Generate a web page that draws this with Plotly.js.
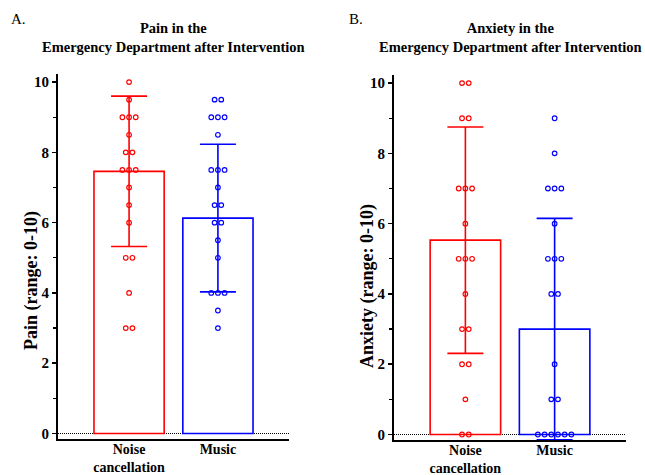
<!DOCTYPE html>
<html>
<head>
<meta charset="utf-8">
<script src="https://cdn.plot.ly/plotly-3.0.1.min.js"></script>
<style>html,body{margin:0;padding:0;background:#fff;}#chart{width:645px;height:475px;}</style>
</head>
<body>
<div id="chart"></div>
<script>
// ---- data ----
const categories = ['Noise<br>cancellation', 'Music'];

// Panel A: pain after intervention (individual patients)
const painNoise = [10, 9.5, 9, 9, 9, 8.5, 8, 8, 7.5, 7.5, 7.5, 7, 6.5, 6, 5, 5, 4, 3, 3];
const painMusic = [9.5, 9.5, 9, 9, 9, 8.5, 7.5, 7.5, 7.5, 7, 6.5, 6.5, 6, 6, 5.5, 5, 4, 4, 4, 3.5, 3];
const painMean = [7.46, 6.13];
const painSD = [2.14, 2.10];

// Panel B: anxiety after intervention
const anxNoise = [10, 10, 9, 9, 7, 7, 7, 6, 5, 5, 5, 4, 3, 3, 2, 2, 1, 0, 0];
const anxMusic = [9, 8, 7, 7, 7, 6, 5, 5, 5, 4, 4, 2, 1, 1, 0, 0, 0, 0, 0, 0];
const anxMean = [5.53, 3.0];
const anxSD = [3.22, 3.15];

const panelTitles = ['Pain in the<br>Emergency Department after Intervention',
                     'Anxiety in the<br>Emergency Department after Intervention'];
const yTitles = ['Pain (range: 0-10)', 'Anxiety (range: 0-10)'];
const panelLetters = ['A.', 'B.'];

// ---- helpers ----
const FONT = 'Liberation Serif, Times New Roman, serif';
const colors = ['#ff0000', '#0000ff'];
const JIT = 0.075; // horizontal spacing between tied points (category units)

function swarm(values, catIndex) {
  const counts = {}, seen = {};
  values.forEach(v => { counts[v] = (counts[v] || 0) + 1; });
  return values.map(v => {
    const i = seen[v] || 0; seen[v] = i + 1;
    return catIndex + (i - (counts[v] - 1) / 2) * JIT;
  });
}

const traces = [];
function addPanel(ax, ay, means, sds, groups) {
  const xref = 'x' + (ax === 1 ? '' : ax), yref = 'y' + (ay === 1 ? '' : ay);
  means.forEach((m, k) => {
    traces.push({
      type: 'bar', x: [k], y: [m], xaxis: xref, yaxis: yref, width: 0.79,
      marker: {color: 'rgba(255,255,255,0)', line: {color: colors[k], width: 1.6}},
      error_y: {type: 'data', array: [sds[k]], visible: true, color: colors[k], thickness: 1.6, width: 18},
      hoverinfo: 'skip', showlegend: false
    });
  });
  groups.forEach((vals, k) => {
    traces.push({
      type: 'scatter', mode: 'markers', x: swarm(vals, k), y: vals, xaxis: xref, yaxis: yref,
      marker: {symbol: 'circle-open', size: 4.6, color: colors[k], line: {width: 1.2, color: colors[k]}},
      showlegend: false, hoverinfo: 'skip'
    });
  });
}
addPanel(1, 1, painMean, painSD, [painNoise, painMusic]);
addPanel(2, 2, anxMean, anxSD, [anxNoise, anxMusic]);

const W = 645, H = 475;
const px = v => v / W, py = v => 1 - v / H;

function xax(d0, d1, anchor) {
  return {
    domain: [px(d0), px(d1)], anchor: anchor, range: [-0.8, 1.8],
    tickvals: [0, 1], ticktext: categories, ticks: '', showgrid: false, zeroline: false,
    showline: true, linecolor: '#000', linewidth: 2, ticklabelstandoff: -4,
    tickfont: {family: FONT, size: 14, color: '#000', weight: 700}
  };
}
function yax(t, b, anchor) {
  return {
    domain: [py(b), py(t)], anchor: anchor, range: [-0.156, 10.23],
    tickvals: [0, 2, 4, 6, 8, 10], ticks: 'outside', ticklen: 4, tickwidth: 1.5, tickcolor: '#000',
    minor: {tickvals: [1, 3, 5, 7, 9], ticks: 'outside', ticklen: 3, tickwidth: 1.2, tickcolor: '#000'},
    showgrid: false, zeroline: false, showline: true, linecolor: '#000', linewidth: 2,
    tickfont: {family: FONT, size: 15, color: '#000', weight: 700}
  };
}

const annotations = [];
const centers = [(58 + 289) / 2, (394 + 626) / 2];
panelTitles.forEach((t, i) => annotations.push({
  xref: 'paper', yref: 'paper', x: px(centers[i]), y: py(38), xanchor: 'center', yanchor: 'middle',
  text: '<b>' + t + '</b>', showarrow: false, align: 'center',
  font: {family: FONT, size: 14.5, color: '#000'}
}));
const letterX = [9, 347];
panelLetters.forEach((t, i) => annotations.push({
  xref: 'paper', yref: 'paper', x: px(letterX[i]), y: py(19), xanchor: 'left', yanchor: 'middle',
  text: t, showarrow: false, font: {family: FONT, size: 15, color: '#000'}
}));
const yTitleX = [31, 367], yTitleY = [281, 286];
yTitles.forEach((t, i) => annotations.push({
  xref: 'paper', yref: 'paper', x: px(yTitleX[i]), y: py(yTitleY[i]), xanchor: 'center', yanchor: 'middle',
  text: '<b>' + t + '</b>', textangle: -90, showarrow: false,
  font: {family: FONT, size: 18, color: '#000'}
}));

const shapes = [['x', 'y'], ['x2', 'y2']].map(([xr, yr]) => ({
  type: 'line', xref: xr + ' domain', yref: yr, x0: 0, x1: 1, y0: 0, y1: 0,
  line: {color: '#000', width: 1.2, dash: '1px,1px'}, layer: 'below'
}));

const layout = {
  width: W, height: H, margin: {l: 0, r: 0, t: 0, b: 0},
  paper_bgcolor: '#fff', plot_bgcolor: 'rgba(0,0,0,0)',
  xaxis: xax(58, 289, 'y'), yaxis: yax(74, 439, 'x'),
  xaxis2: xax(394, 626, 'y2'), yaxis2: yax(75, 440, 'x2'),
  annotations: annotations, shapes: shapes, showlegend: false, barmode: 'overlay'
};

Plotly.newPlot('chart', traces, layout, {staticPlot: true, displayModeBar: false});
</script>
</body>
</html>
